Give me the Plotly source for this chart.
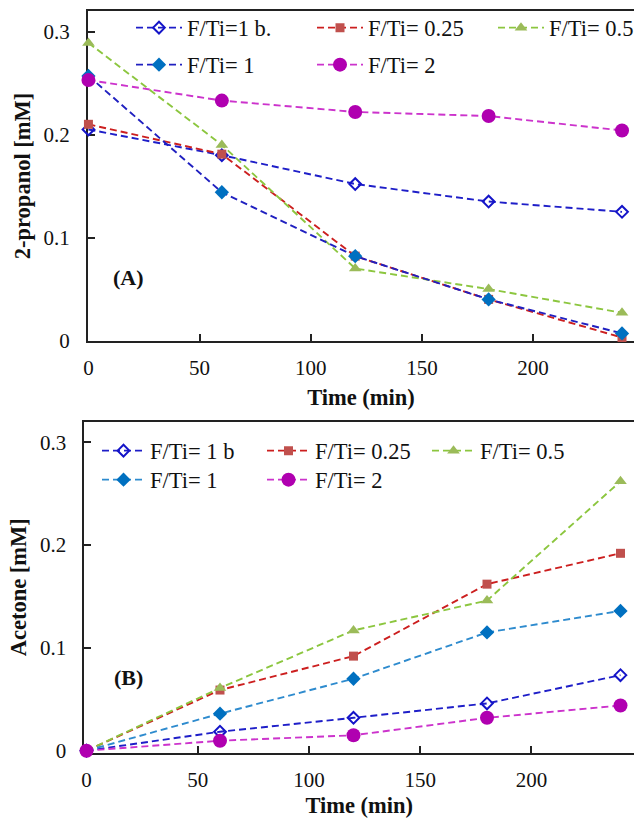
import plotly.graph_objects as go

W, H = 634, 818

time_min = [0, 60, 120, 180, 240]

# Panel A: 2-propanol concentration [mM]
propanol_1b = [0.205, 0.180, 0.152, 0.135, 0.125]
propanol_025 = [0.210, 0.181, 0.082, 0.040, 0.003]
propanol_05 = [0.289, 0.190, 0.070, 0.050, 0.027]
propanol_1 = [0.257, 0.144, 0.082, 0.040, 0.007]
propanol_2 = [0.253, 0.233, 0.222, 0.218, 0.204]

# Panel B: acetone concentration [mM]
acetone_1b = [0.0, 0.0185, 0.032, 0.046, 0.0735]
acetone_025 = [0.0, 0.059, 0.092, 0.162, 0.192]
acetone_05 = [0.0, 0.061, 0.117, 0.146, 0.262]
acetone_1 = [0.0, 0.036, 0.070, 0.115, 0.136]
acetone_2 = [0.0, 0.0097, 0.015, 0.032, 0.044]

names_a = ["F/Ti=1 b.", "F/Ti= 0.25", "F/Ti= 0.5", "F/Ti= 1", "F/Ti= 2"]
names_b = ["F/Ti= 1 b", "F/Ti= 0.25", "F/Ti= 0.5", "F/Ti= 1", "F/Ti= 2"]

y_ticks = [0, 0.1, 0.2, 0.3]
y_tick_text = ["0", "0.1", "0.2", "0.3"]
x_ticks = [0, 50, 100, 150, 200]

FONT = "Liberation Serif"
DASH = "7px,4px"
INK = "#111"

# marker/line styling per series
styles = [
    dict(symbol="diamond-open", size=9, mcolor="#1414C8", lineA="#1E1EC8", lineB="#1E1EC8", mline=2),
    dict(symbol="square", size=9, mcolor="#C0504D", lineA="#CC1F1F", lineB="#CC1F1F", mline=0),
    dict(symbol="triangle-up", size=11, mcolor="#9BBB59", lineA="#8CC63F", lineB="#8CC63F", mline=0),
    dict(symbol="diamond", size=11, mcolor="#0070C0", lineA="#2020C0", lineB="#2E8BCE", mline=0),
    dict(symbol="circle", size=14, mcolor="#B000B0", lineA="#CC33CC", lineB="#CC33CC", mline=0),
]


def px_x(p):
    return p / W


def px_y(p):
    return 1 - p / H


fig = go.Figure()

series_a = [propanol_1b, propanol_025, propanol_05, propanol_1, propanol_2]
series_b = [acetone_1b, acetone_025, acetone_05, acetone_1, acetone_2]

# legend rows: first three entries on one row, last two on the next
for i, (vals, name, st) in enumerate(zip(series_a, names_a, styles)):
    fig.add_trace(go.Scatter(
        x=time_min, y=vals, name=name, mode="lines+markers",
        xaxis="x", yaxis="y", cliponaxis=False,
        legend="legend" if i < 3 else "legend3",
        legendwidth=80 if i == 2 else None,
        line=dict(color=st["lineA"], width=1.9, dash=DASH),
        marker=dict(symbol=st["symbol"], size=st["size"], color=st["mcolor"],
                    line=dict(width=st["mline"], color=st["mcolor"])),
    ))

for i, (vals, name, st) in enumerate(zip(series_b, names_b, styles)):
    fig.add_trace(go.Scatter(
        x=time_min, y=vals, name=name, mode="lines+markers",
        xaxis="x2", yaxis="y2", cliponaxis=False,
        legend="legend2" if i < 3 else "legend4",
        legendwidth=80 if i == 2 else None,
        line=dict(color=st["lineB"], width=1.9, dash=DASH),
        marker=dict(symbol=st["symbol"], size=st["size"], color=st["mcolor"],
                    line=dict(width=st["mline"], color=st["mcolor"])),
    ))

tick_font = dict(family=FONT, size=21, color=INK)
title_font = dict(family=FONT, size=22.5, color=INK)
axis_common = dict(
    ticks="inside", ticklen=7, tickwidth=1.5, tickcolor="#222",
    showline=True, linewidth=2, linecolor="#222", layer="below traces",
    showgrid=False, zeroline=False, automargin=False,
    tickfont=tick_font,
)
x_common = dict(tickvals=x_ticks, mirror=True, ticklabelstandoff=7, **axis_common)
y_common = dict(tickvals=y_ticks, ticktext=y_tick_text, ticklabelstandoff=12, **axis_common)

# plotting areas in pixels
A_left, A_top, A_bottom = 88, 11, 341
B_left, B_top, B_bottom = 86.5, 421.7, 750.7
scale = 2.225          # px per minute
yscale = 330 / 0.32    # px per mM

# panel B gets a little room below/left of zero so the points at the origin stay whole
b_ypad, b_xpad = 0.002, 0.9

fig.update_layout(
    template="none",
    width=W, height=H,
    margin=dict(l=0, r=0, t=0, b=0, autoexpand=False),
    paper_bgcolor="white", plot_bgcolor="rgba(0,0,0,0)",
    font=dict(family=FONT, size=21, color=INK),
    xaxis=dict(domain=[px_x(A_left), 1], anchor="y",
               range=[-0.2, (W - A_left) / scale],
               title=dict(text="<b>Time (min)</b>", font=title_font, standoff=10),
               **x_common),
    yaxis=dict(domain=[px_y(A_bottom), px_y(A_top)], anchor="x",
               range=[-0.0004, 0.32],
               title=dict(text="<b>2-propanol [mM]</b>", font=title_font, standoff=7),
               **y_common),
    xaxis2=dict(domain=[px_x(B_left - b_xpad * scale), 1], anchor="y2",
                range=[-b_xpad, (W - B_left) / scale],
                title=dict(text="<b>Time (min)</b>", font=title_font, standoff=11),
                **x_common),
    yaxis2=dict(domain=[px_y(B_bottom + b_ypad * yscale), px_y(B_top)], anchor="x2",
                range=[-b_ypad, 0.32],
                title=dict(text="<b>Acetone [mM]</b>", font=title_font, standoff=7),
                **y_common),
)

legend_common = dict(
    orientation="h", xanchor="left", yanchor="middle",
    bgcolor="rgba(0,0,0,0)", borderwidth=0,
    font=dict(family=FONT, size=22.5, color=INK),
    entrywidthmode="pixels",
)
fig.update_layout(
    legend=dict(x=px_x(131), y=px_y(28), itemwidth=46, entrywidth=120, **legend_common),
    legend3=dict(x=px_x(131), y=px_y(65), itemwidth=46, entrywidth=120, **legend_common),
    legend2=dict(x=px_x(97), y=px_y(451), itemwidth=43, entrywidth=107, **legend_common),
    legend4=dict(x=px_x(97), y=px_y(480), itemwidth=43, entrywidth=107, **legend_common),
)

label_font = dict(family=FONT, size=22, color=INK)
fig.add_annotation(text="<b>(A)</b>", x=px_x(128), y=px_y(278), xref="paper", yref="paper",
                   xanchor="center", yanchor="middle", showarrow=False, font=label_font)
fig.add_annotation(text="<b>(B)</b>", x=px_x(128), y=px_y(677), xref="paper", yref="paper",
                   xanchor="center", yanchor="middle", showarrow=False, font=label_font)

fig.write_html("out.html")
